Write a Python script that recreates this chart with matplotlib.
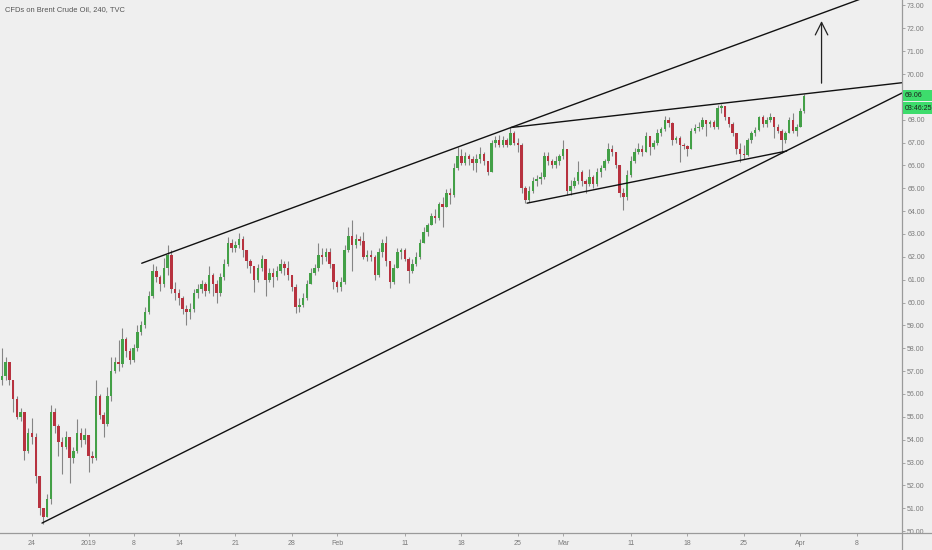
import numpy as np
import pandas as pd
import matplotlib
matplotlib.use('Agg')
import matplotlib.pyplot as plt
from matplotlib.lines import Line2D
from matplotlib.patches import Rectangle

plt.rcParams['font.family'] = ['Liberation Sans', 'DejaVu Sans']

# 8h-ish candles (3 per trading day), first one on Dec 19
first_open = 56.6
closes = [
    56.8, 57.4, 56.6, 55.8, 55.0, 55.2, 53.5, 54.3, 54.1, 52.4,
    51.0, 50.6, 51.4, 55.2, 54.6, 53.9, 53.7, 54.1, 53.2, 53.5,
    54.3, 54.0, 54.2, 53.3, 53.2, 55.9, 55.1, 54.7, 55.9, 57.0,
    57.4, 57.3, 58.4, 57.9, 57.5, 58.0, 58.7, 59.0, 59.6, 60.3,
    61.4, 61.1, 60.8, 61.5, 62.1, 60.6, 60.4, 60.2, 59.7, 59.6,
    59.7, 60.4, 60.6, 60.8, 60.5, 61.2, 60.8, 60.4, 61.1, 61.7,
    62.6, 62.4, 62.5, 62.8, 62.3, 61.8, 61.6, 61.0, 61.5, 61.9,
    61.0, 61.3, 61.1, 61.4, 61.7, 61.5, 61.2, 60.7, 59.8, 59.9,
    60.2, 60.8, 61.3, 61.5, 62.1, 62.0, 62.2, 61.7, 60.9, 60.7,
    60.9, 62.3, 62.9, 62.5, 62.8, 62.7, 62.0, 62.1, 62.0, 61.2,
    62.2, 62.6, 61.8, 60.9, 61.5, 62.2, 62.3, 61.9, 61.4, 61.7,
    62.0, 62.6, 63.1, 63.4, 63.8, 63.7, 64.3, 64.2, 64.8, 64.7,
    65.9, 66.4, 66.1, 66.4, 66.3, 66.1, 66.3, 66.5, 66.2, 65.7,
    67.0, 67.1, 66.9, 67.1, 66.9, 67.4, 67.0, 66.9, 65.0, 64.5,
    64.9, 65.3, 65.4, 65.5, 66.4, 66.2, 66.0, 66.2, 66.4, 66.7,
    64.9, 65.1, 65.3, 65.7, 65.3, 65.2, 65.5, 65.2, 65.7, 65.9,
    66.2, 66.7, 66.6, 66.0, 64.8, 64.6, 65.6, 66.2, 66.6, 66.7,
    66.6, 67.3, 66.8, 67.0, 67.4, 67.6, 68.0, 67.85, 67.1, 67.2,
    66.9, 66.85, 66.7, 67.5, 67.65, 67.7, 68.0, 67.8, 67.9, 67.7,
    68.5, 68.6, 68.1, 67.8, 67.4, 66.7, 66.5, 66.45, 67.1, 67.4,
    67.55, 68.1, 67.8, 68.0, 68.1, 67.7, 67.5, 67.1, 67.4, 68.0,
    67.5, 67.7, 68.4, 69.06,
]
highs = [
    58.0, 57.6, 57.4, 56.6, 55.9, 55.4, 55.2, 54.5, 54.95, 54.3,
    52.4, 51.0, 51.6, 55.5, 55.4, 54.7, 54.1, 54.4, 54.1, 53.7,
    54.9, 54.5, 54.5, 54.2, 53.5, 56.6, 56.0, 55.2, 56.3, 57.6,
    57.6, 58.35, 58.9, 58.5, 58.0, 58.2, 59.0, 59.2, 59.8, 60.5,
    61.7, 61.6, 61.2, 61.95, 62.5, 62.3, 60.9, 60.6, 60.3, 59.9,
    60.0, 60.6, 60.8, 61.0, 60.9, 61.6, 61.3, 61.0, 61.3, 61.9,
    62.85, 62.8, 62.7, 63.05, 62.9, 62.3, 61.9, 61.6, 61.7, 62.1,
    61.9, 61.5, 61.5, 61.6, 61.9, 61.8, 61.8, 61.2, 60.8, 60.2,
    60.4, 61.0, 61.5, 61.7, 62.6, 62.4, 62.4, 62.4, 61.7, 61.0,
    61.1, 62.5, 63.3, 63.6, 63.0, 62.9, 63.1, 62.3, 62.3, 62.1,
    62.4, 62.8, 62.9, 61.8, 61.7, 62.4, 62.4, 62.4, 62.0, 61.9,
    62.2, 62.8, 63.3, 63.5, 63.9, 64.1, 64.4, 64.6, 64.95, 65.0,
    66.1, 66.8, 66.7, 66.6, 66.5, 66.4, 66.5, 66.8, 66.6, 66.2,
    67.1, 67.3, 67.35, 67.3, 67.2, 67.7, 67.5, 67.2, 67.0, 65.1,
    65.1, 65.5, 65.6, 65.7, 66.6, 66.6, 66.3, 66.4, 66.5, 67.1,
    66.7, 65.35, 65.5, 66.2, 65.8, 65.4, 65.85, 65.6, 65.9, 66.0,
    66.3, 67.0, 66.9, 66.6, 66.0, 65.0, 65.8, 66.4, 66.75, 67.0,
    66.9, 67.45, 67.3, 67.1, 67.6, 67.7, 68.15, 68.1, 67.9, 67.3,
    67.3, 67.0, 66.9, 67.65, 67.8, 67.9, 68.1, 68.0, 68.0, 68.0,
    68.65, 68.7, 68.6, 68.1, 67.9, 67.4, 67.0, 66.9, 67.2, 67.5,
    67.7, 68.15, 68.2, 68.1, 68.3, 68.1, 67.8, 67.6, 67.5, 68.1,
    68.3, 67.8, 68.5, 69.13,
]
lows = [
    56.4, 56.6, 56.4, 55.2, 54.9, 54.8, 53.1, 53.4, 53.8, 52.1,
    50.7, 50.3, 50.8, 51.2, 54.3, 53.3, 52.5, 53.6, 52.1, 53.0,
    53.4, 53.7, 53.8, 52.6, 53.0, 53.1, 54.9, 54.1, 54.6, 55.7,
    56.9, 57.0, 57.2, 57.6, 57.3, 57.4, 57.9, 58.6, 58.9, 59.5,
    60.2, 60.9, 60.5, 60.7, 61.2, 60.4, 60.1, 59.9, 59.5, 59.0,
    59.3, 59.6, 60.2, 60.4, 60.3, 60.4, 60.3, 60.0, 60.3, 61.0,
    61.6, 62.2, 62.2, 62.4, 62.0, 61.5, 61.3, 60.45, 60.9, 61.4,
    60.3, 60.9, 60.7, 61.0, 61.3, 61.2, 61.0, 60.5, 59.55, 59.6,
    59.8, 60.1, 60.8, 61.2, 61.4, 61.7, 61.8, 61.5, 60.6, 60.45,
    60.5, 60.8, 62.2, 61.4, 62.4, 62.5, 61.9, 61.8, 61.8, 61.0,
    61.1, 62.0, 61.6, 60.65, 60.8, 61.5, 61.9, 61.8, 60.85, 61.3,
    61.6, 61.9, 62.6, 62.9, 63.4, 63.5, 63.6, 63.3, 64.2, 64.3,
    64.6, 65.8, 66.0, 66.0, 66.0, 65.8, 65.7, 66.1, 66.0, 65.6,
    65.7, 66.8, 66.8, 66.8, 66.8, 66.9, 66.9, 66.6, 64.8, 64.35,
    64.4, 64.8, 65.1, 65.2, 65.4, 66.0, 65.9, 65.9, 66.0, 66.3,
    64.7, 64.7, 65.0, 65.2, 65.1, 64.8, 65.1, 65.0, 65.1, 65.5,
    65.8, 66.1, 66.4, 65.9, 64.6, 64.05, 64.5, 65.5, 66.1, 66.5,
    66.4, 66.6, 66.45, 66.7, 66.9, 67.3, 67.5, 67.7, 66.9, 67.0,
    66.15, 66.7, 66.4, 66.7, 67.4, 67.5, 67.6, 67.3, 67.7, 67.6,
    67.6, 68.3, 68.0, 67.7, 67.3, 66.5, 66.15, 66.3, 66.4, 67.0,
    67.3, 67.5, 67.7, 67.7, 67.9, 67.2, 67.4, 66.55, 67.0, 67.4,
    67.4, 67.3, 67.7, 68.3,
]

# x axis labels (trading calendar, weekends + holidays skipped)
tick_dates = ['2018-12-24', '2019-01-02', '2019-01-08', '2019-01-14', '2019-01-21',
              '2019-01-28', '2019-02-01', '2019-02-11', '2019-02-18', '2019-02-25',
              '2019-03-01', '2019-03-11', '2019-03-18', '2019-03-25', '2019-04-01',
              '2019-04-08']
tick_labels = ['24', '2019', '8', '14', '21', '28', 'Feb', '11', '18', '25',
               'Mar', '11', '18', '25', 'Apr', '8']
holidays = ['2018-12-25', '2019-01-01']
price_ticks = np.arange(50, 74, 1)

# hand drawn trend lines: (date index, price) pairs
outer_top = [(9.71, 61.72), (76.99, 73.95)]
wedge_top = [(42.39, 67.66), (76.99, 69.62)]
wedge_bottom = [(43.81, 64.35), (66.78, 66.63)]
outer_bottom = [(0.885, 50.35), (76.99, 69.17)]
target_arrow = [(69.87, 69.60), (69.87, 72.32)]

last_price = 69.06
countdown = '03:46:25'

BG = '#efefef'
UP = '#43a047'
DOWN = '#b7323f'
WICK = '#858585'
AXIS = '#9a9a9a'
TXT = '#7a7a7a'
TAG = '#3ddc6c'

W, H = 932, 550

days = pd.bdate_range('2018-12-19', '2019-04-12')
days = days[~days.isin(pd.to_datetime(holidays))]
day_idx = {d: i - list(days).index(pd.Timestamp('2018-12-24')) for i, d in enumerate(days)}

n = len(closes)
t = day_idx[pd.Timestamp('2018-12-19')] + (1 + np.arange(n)) / 3.0
c = np.array(closes)
o = np.concatenate([[first_open], c[:-1]])
h = np.maximum(np.array(highs), np.maximum(o, c))
l = np.minimum(np.array(lows), np.minimum(o, c))
up = c >= o

fig = plt.figure(figsize=(W / 100, H / 100), dpi=100, facecolor=BG)
ax = fig.add_axes([0, 17 / H, 902 / W, 533 / H], facecolor=BG)

ax.vlines(t, l, h, color=WICK, linewidth=0.8, zorder=2)
body_h = np.maximum(np.abs(c - o), 0.04)
body_b = np.minimum(o, c)
ax.bar(t[up], body_h[up], bottom=body_b[up], width=0.22, color=UP, linewidth=0, zorder=3)
ax.bar(t[~up], body_h[~up], bottom=body_b[~up], width=0.22, color=DOWN, linewidth=0, zorder=3)

for ln in [outer_top, wedge_top, wedge_bottom, outer_bottom]:
    ax.plot([ln[0][0], ln[1][0]], [ln[0][1], ln[1][1]], color='#111111', linewidth=1.0,
            solid_capstyle='round', zorder=4)

ax.annotate('', xy=target_arrow[1], xytext=target_arrow[0],
            arrowprops=dict(arrowstyle='->,head_length=0.9,head_width=0.45',
                            color='#222222', linewidth=0.9, shrinkA=0, shrinkB=0),
            zorder=5)

ax.set_xlim(-2.832, 76.99)
ax.set_ylim(49.915, 73.24)

for s in ax.spines.values():
    s.set_visible(False)

# the live price tag sits over the 69.00 label, so that one is left blank
ax.yaxis.tick_right()
ax.set_yticks(price_ticks)
ax.set_yticklabels(['' if abs(v - last_price) < 0.5 else f'{v:.2f}' for v in price_ticks])
ax.tick_params(axis='y', length=2.2, width=0.6, color=AXIS, labelsize=5, labelcolor=TXT, pad=1.5)

ax.set_xticks([day_idx[pd.Timestamp(d)] for d in tick_dates])
ax.set_xticklabels(tick_labels)
ax.tick_params(axis='x', length=1.8, width=0.6, color=AXIS, labelsize=5, labelcolor=TXT, pad=3)

# axis lines run past the plot box, like the original screenshot
fig.add_artist(Line2D([902 / W, 902 / W], [0, 1], color=AXIS, linewidth=0.9))
fig.add_artist(Line2D([0, 1], [17 / H, 17 / H], color=AXIS, linewidth=0.9))

# last price tag + bar countdown, stacked under each other
y_last = ax.transData.transform((0, last_price))[1]  # pixels from bottom
tags = [(f'{last_price:.2f}', y_last), (countdown, y_last - 12.5)]
for txt, yc in tags:
    fig.add_artist(Rectangle((903 / W, (yc - 5.8) / H), 29 / W, 11.6 / H,
                             transform=fig.transFigure, facecolor=TAG,
                             edgecolor='none', zorder=6))
    fig.text(905 / W, yc / H, txt, fontsize=5, color='#1d1d1d',
             ha='left', va='center', zorder=7)

fig.text(5 / W, 1 - 10 / H, 'CFDs on Brent Crude Oil, 240, TVC', fontsize=5.4,
         color='#555555', ha='left', va='center')

fig.savefig('out.png', dpi=100, facecolor=BG)
